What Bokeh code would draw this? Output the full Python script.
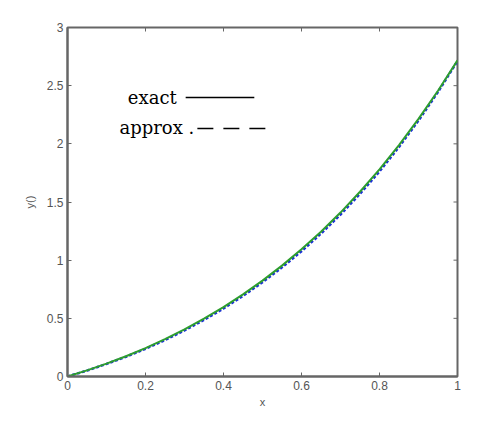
import math
from bokeh.plotting import figure
from bokeh.models import Range1d, FixedTicker, Label
from bokeh.embed import file_html
from bokeh.resources import INLINE

x_vals = [0.0, 0.05, 0.1, 0.15, 0.2, 0.25, 0.3, 0.35, 0.4, 0.45, 0.5,
          0.55, 0.6, 0.65, 0.7, 0.75, 0.8, 0.85, 0.9, 0.95, 1.0]
exact_vals = [0.0, 0.053, 0.111, 0.174, 0.244, 0.321, 0.405, 0.497, 0.597, 0.706, 0.824,
              0.953, 1.093, 1.245, 1.409, 1.588, 1.780, 1.989, 2.214, 2.456, 2.718]
approx_vals = [0.0, 0.051, 0.108, 0.170, 0.238, 0.313, 0.396, 0.487, 0.585, 0.693, 0.810,
               0.938, 1.077, 1.228, 1.392, 1.570, 1.763, 1.973, 2.200, 2.446, 2.712]
x_ticks = [0, 0.2, 0.4, 0.6, 0.8, 1]
y_ticks = [0, 0.5, 1, 1.5, 2, 2.5, 3]
x_tick_labels = {0: "0", 0.2: "0.2", 0.4: "0.4", 0.6: "0.6", 0.8: "0.8", 1: "1"}
y_tick_labels = {0: "0", 0.5: "0.5", 1: "1", 1.5: "1.5", 2: "2", 2.5: "2.5", 3: "3"}

p = figure(width=478, height=416, output_backend="svg", toolbar_location=None,
           x_range=Range1d(0, 1), y_range=Range1d(0, 3),
           min_border_left=67, min_border_right=21, min_border_top=27, min_border_bottom=40)
p.grid.visible = False
p.outline_line_color = "#666666"
p.outline_line_width = 2
p.background_fill_color = "white"
p.border_fill_color = "white"

gray = "#666666"
tick_font = "Liberation Sans"

for ax, ticks, labels in [(p.xaxis[0], x_ticks, x_tick_labels), (p.yaxis[0], y_ticks, y_tick_labels)]:
    ax.ticker = FixedTicker(ticks=ticks)
    ax.major_label_overrides = labels
    ax.major_tick_in = 4
    ax.major_tick_out = 0
    ax.minor_tick_line_color = None
    ax.axis_line_color = gray
    ax.axis_line_width = 2
    ax.major_tick_line_color = gray
    ax.major_label_text_color = "#555555"
    ax.major_label_text_font = tick_font
    ax.major_label_text_font_size = "12px"
    ax.axis_label_text_color = "#555555"
    ax.axis_label_text_font = tick_font
    ax.axis_label_text_font_size = "11px"
    ax.axis_label_text_font_style = "normal"

p.xaxis.major_label_standoff = 4
p.yaxis.major_label_standoff = 4
p.xaxis.axis_label = "x"
p.xaxis.axis_label_standoff = 3
p.yaxis.axis_label = "y()"
p.yaxis.axis_label_standoff = 8

# mirrored ticks on the top and right edges of the box
p.scatter(x=[1] * len(y_ticks), y=y_ticks, marker="dash", size=8,
          line_color=gray, line_width=1)
p.scatter(x=x_ticks, y=[3] * len(x_ticks), marker="dash", size=8, angle=math.pi / 2,
          line_color=gray, line_width=1)

p.line(x_vals, approx_vals, line_color="#1a2fd6", line_width=2.5, line_dash="3 2")
p.line(x_vals, exact_vals, line_color="#2e9e2e", line_width=2)

# hand-drawn style legend
p.add_layout(Label(x=0.28, y=2.398, text="exact", text_font="DejaVu Serif",
                   text_font_size="18px", text_align="right", text_baseline="middle",
                   text_color="black"))
p.add_layout(Label(x=0.325, y=2.14, text="approx .", text_font="DejaVu Serif",
                   text_font_size="18px", text_align="right", text_baseline="middle",
                   text_color="black"))
p.segment(x0=[0.303], y0=[2.398], x1=[0.479], y1=[2.398], line_color="black", line_width=1.5)
p.segment(x0=[0.333], y0=[2.132], x1=[0.515], y1=[2.132], line_color="black", line_width=1.5,
          line_dash="16 10")

open("out.html", "w").write(file_html(p, INLINE))
